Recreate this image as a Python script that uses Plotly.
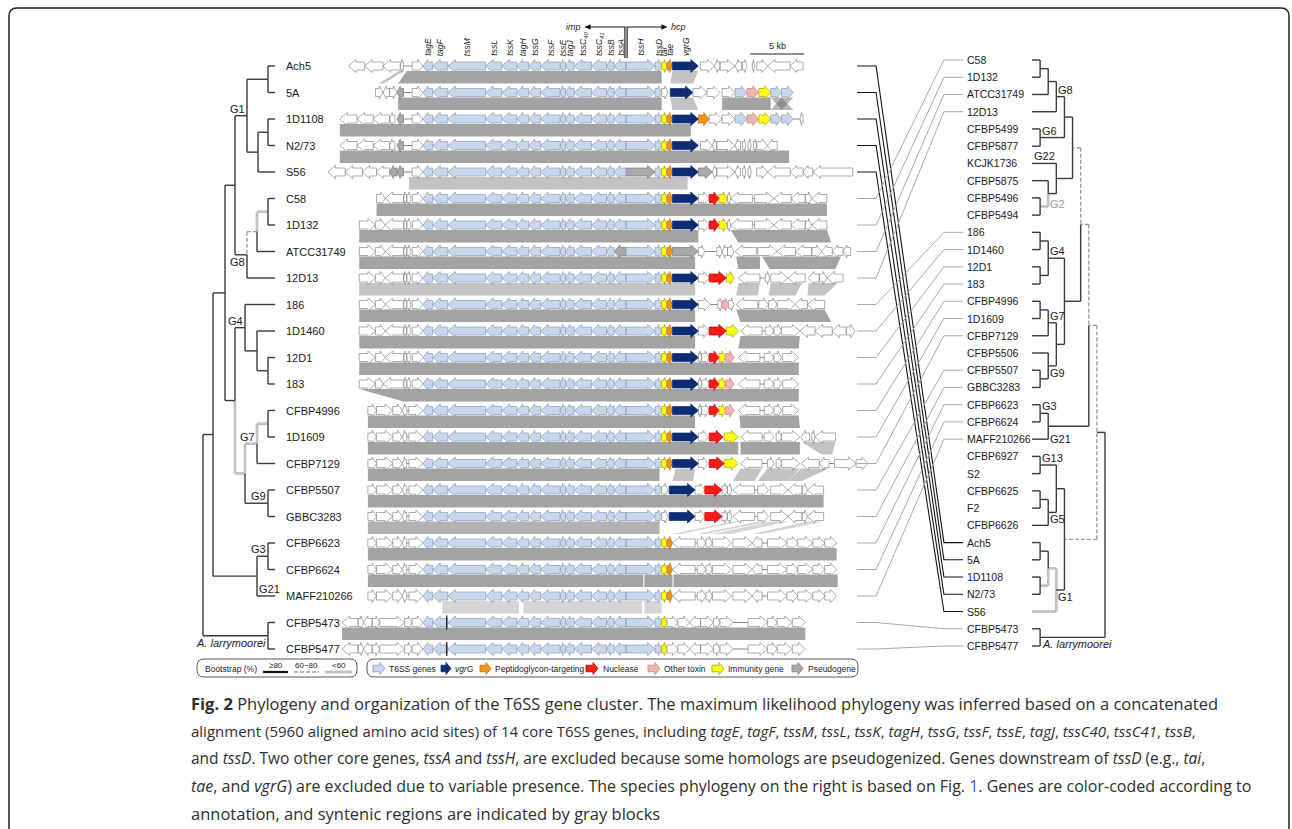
import plotly.graph_objects as go

W, H = 1292, 829

# ---------------- data ----------------
LEFT_STRAINS = ["Ach5", "5A", "1D1108", "N2/73", "S56", "C58", "1D132", "ATCC31749",
                "12D13", "186", "1D1460", "12D1", "183", "CFBP4996", "1D1609", "CFBP7129",
                "CFBP5507", "GBBC3283", "CFBP6623", "CFBP6624", "MAFF210266", "CFBP5473", "CFBP5477"]

RIGHT_STRAINS = ["C58", "1D132", "ATCC31749", "12D13", "CFBP5499", "CFBP5877", "KCJK1736",
                 "CFBP5875", "CFBP5496", "CFBP5494", "186", "1D1460", "12D1", "183", "CFBP4996",
                 "1D1609", "CFBP7129", "CFBP5506", "CFBP5507", "GBBC3283", "CFBP6623", "CFBP6624",
                 "MAFF210266", "CFBP6927", "S2", "CFBP6625", "F2", "CFBP6626", "Ach5", "5A",
                 "1D1108", "N2/73", "S56", "CFBP5473", "CFBP5477"]

G1_STRAINS = ["Ach5", "5A", "1D1108", "N2/73", "S56"]

# tree nodes: [depth, branch style, children]; leaf = name or (name, style)
# styles: s = bootstrap >=80, d = 60~80, g = <60
LEFT_TREE = [0.0, "s", [
    [1.0, "s", [
        [2.2, "s", [
            [3.2, "s", [
                [4.4, "s", [
                    [6.5, "s", ["Ach5", "5A"]],
                    [5.5, "s", [[6.5, "s", ["1D1108", "N2/73"]], "S56"]],
                ]],
                [4.4, "s", [
                    [5.4, "d", [[6.5, "g", ["C58", "1D132"]], "ATCC31749"]],
                    "12D13"]],
            ]],
            [3.2, "s", [
                [4.2, "s", ["186", [5.4, "s", ["1D1460", [6.5, "s", ["12D1", "183"]]]]]],
                [4.2, "g", [
                    [5.4, "g", [[6.5, "g", ["CFBP4996", "1D1609"]], "CFBP7129"]],
                    [6.5, "s", ["CFBP5507", "GBBC3283"]]]],
            ]],
        ]],
        [5.4, "s", [[6.5, "s", ["CFBP6623", "CFBP6624"]], "MAFF210266"]],
    ]],
    [6.5, "s", ["CFBP5473", "CFBP5477"]],
]]
LEFT_TIP = 7.2

RIGHT_TREE = [9, "s", [
    [8, "s", [
        [7, "d", [
            [6, "d", [
                [5, "d", [
                    [4, "s", [
                        [3, "s", [[2, "s", [[1, "s", ["C58", "1D132"]], "ATCC31749"]], "12D13"]],
                        [1, "s", ["CFBP5499", "CFBP5877"]],
                    ]],
                    [3, "s", ["KCJK1736", [2, "s", ["CFBP5875", [1, "g", ["CFBP5496", "CFBP5494"]]]]]],
                ]],
                [4, "s", [
                    [2, "s", [[1, "s", ["186", "1D1460"]], [1, "s", ["12D1", "183"]]]],
                    [3, "s", [
                        [2, "s", [[1, "s", ["CFBP4996", "1D1609"]], "CFBP7129"]],
                        [2, "s", ["CFBP5506", [1, "s", ["CFBP5507", "GBBC3283"]]]],
                    ]],
                ]],
            ]],
            [2, "s", [[1, "s", ["CFBP6623", "CFBP6624"]], "MAFF210266"]],
        ]],
        [4, "d", [
            [3, "s", [[1, "s", ["CFBP6927", "S2"]], [2, "s", [[1, "s", ["CFBP6625", "F2"]], "CFBP6626"]]]],
            [3, "s", [[2, "g", [[1, "s", ["Ach5", "5A"]], [1, "g", ["1D1108", "N2/73"]]]], ("S56", "g")]],
        ]],
    ]],
    [1, "s", ["CFBP5473", "CFBP5477"]],
]]

# group labels: (text, node key for x, node key for y, xanchor, yanchor)
LEFT_GROUPS = [
    ("G1", "Ach5|S56", "Ach5|S56", "right", "bottom"),
    ("G8", "C58|12D13", "C58|12D13", "right", "top"),
    ("G4", "186|183", "186|183", "right", "bottom"),
    ("G7", "CFBP4996|CFBP7129", "CFBP4996|CFBP7129", "right", "bottom"),
    ("G9", "CFBP5507|GBBC3283", "CFBP5507|GBBC3283", "right", "bottom"),
    ("G3", "CFBP6623|CFBP6624", "CFBP6623|CFBP6624", "right", "bottom"),
    ("G21", "CFBP6623|MAFF210266", "MAFF210266", "left", "bottom"),
    ("<i>A. larrymoorei</i>", "CFBP5473|CFBP5477", "CFBP5473|CFBP5477", "right", "top"),
]
RIGHT_GROUPS = [
    ("G8", "C58|12D13", "C58|12D13", "left", "bottom"),
    ("G6", "CFBP5499|CFBP5877", "CFBP5499|CFBP5877", "left", "bottom"),
    ("G22", "KCJK1736", "KCJK1736", "left", "bottom"),
    ("G2", "CFBP5875|CFBP5494", "CFBP5496|CFBP5494", "left", "middle"),
    ("G4", "186|183", "186|183", "left", "bottom"),
    ("G7", "CFBP4996|CFBP7129", "CFBP4996|CFBP7129", "left", "bottom"),
    ("G9", "CFBP5506|GBBC3283", "CFBP5506|GBBC3283", "left", "top"),
    ("G3", "CFBP6623|CFBP6624", "CFBP6623|CFBP6624", "left", "bottom"),
    ("G21", "CFBP6623|MAFF210266", "MAFF210266", "left", "middle"),
    ("G13", "CFBP6927|S2", "CFBP6927|S2", "left", "bottom"),
    ("G5", "CFBP6625|CFBP6626", "CFBP6625|CFBP6626", "left", "top"),
    ("G1", "Ach5|S56", "Ach5|S56", "left", "top"),
    ("<i>A. larrymoorei</i>", "CFBP5473|CFBP5477", "CFBP5473|CFBP5477", "left", "top"),
]

# core T6SS genes (kb, relative to imp/hcp border)
CORE_NAMES = ["tagE", "tagF", "tssM", "tssL", "tssK", "tagH", "tssG", "tssF", "tssE", "tagJ",
              "tssC40", "tssC41", "tssB", "tssA", "tssH", "tssD"]
CORE_START = [-18.8, -17.9, -16.5, -13.0, -11.5, -10.1, -9.0, -7.9, -6.1, -5.6, -4.8, -3.2, -1.8, -1.1, 0.0, 2.7]
CORE_END = [-17.9, -16.5, -13.0, -11.5, -10.1, -9.0, -7.9, -6.1, -5.6, -4.8, -3.2, -1.8, -1.1, 0.0, 2.7, 3.3]
CORE_STRAND = [-1] * 14 + [1, 1]
TAIL_NAMES = ["tai", "tae", "vgrG"]
TAIL_START = [3.3, 3.8, 4.3]
TAIL_END = [3.8, 4.3, 6.7]
TAIL_CAT = ["y", "o", "n"]
PSEUDO = {"S56": ["tssH"], "ATCC31749": ["tssA"]}
TICKS = {"CFBP5473": [-16.6], "CFBP5477": [-16.6]}

# flanking genes: (start kb, end kb, strand, category); category l = intergenic line
L_A = [(-26.5, -24.9, -1, "w"), (-24.9, -23.4, -1, "w"), (-23.4, -21.9, -1, "w"), (-21.9, -21.4, -1, "w"),
       (-21.2, -20.6, -1, "g"), (-20.6, -19.8, 0, "l"), (-19.8, -18.8, 1, "w")]
L_B = [(-24.7, -23.2, 1, "w"), (-23.2, -22.3, 1, "w"), (-22.3, -20.6, -1, "w"), (-20.6, -20.3, -1, "w"),
       (-20.3, -19.9, 1, "w"), (-19.8, -18.8, 1, "w")]
L_C = [(-23.9, -23.1, 1, "w"), (-23.1, -21.6, 1, "w"), (-21.6, -20.7, 1, "w"), (-20.7, -20.3, -1, "w"),
       (-20.3, -20.1, 0, "l"), (-20.1, -18.8, 1, "w")]
L_D = [(-26.3, -24.8, -1, "w"), (-24.8, -24.3, 1, "w"), (-24.3, -23.5, -1, "w"), (-23.5, -22.8, 1, "w"),
       (-22.8, -20.5, 1, "w"), (-20.5, -19.8, 1, "w"), (-19.8, -18.8, 1, "w")]

LEFT_FLANK = {
    "Ach5": [(-25.7, -24.2, -1, "w"), (-24.2, -22.5, -1, "w"), (-22.5, -20.9, -1, "w"), (-20.9, -20.6, -1, "w"),
             (-20.6, -19.8, 0, "l"), (-19.8, -18.8, 1, "w")],
    "5A": [(-23.2, -22.5, 1, "w"), (-22.5, -21.9, -1, "w"), (-21.9, -21.2, 1, "w"), (-21.2, -20.6, -1, "g"),
           (-20.6, -19.8, 0, "l"), (-19.8, -18.8, 1, "w")],
    "1D1108": L_A, "N2/73": L_A,
    "S56": [(-27.6, -26.0, -1, "w"), (-26.0, -24.4, -1, "w"), (-24.4, -23.1, -1, "w"), (-23.1, -21.9, -1, "w"),
            (-21.9, -21.2, -1, "g"), (-21.2, -20.6, -1, "g"), (-20.6, -19.8, 0, "l"), (-19.8, -18.8, 1, "w")],
    "C58": [(-23.1, -22.3, 1, "w"), (-22.3, -20.6, -1, "w"), (-20.6, -20.3, -1, "w"), (-20.3, -19.9, 1, "w"),
            (-19.8, -18.8, 1, "w")],
    "1D132": L_B, "ATCC31749": L_B, "12D13": L_B, "186": L_B, "1D1460": L_B, "12D1": L_B,
    "183": [(-24.7, -23.2, 1, "w"), (-23.2, -22.5, 1, "w"), (-22.5, -20.6, -1, "w"), (-20.6, -20.3, -1, "w"),
            (-20.3, -19.9, 1, "w"), (-19.8, -18.8, 1, "w")],
    "CFBP4996": L_C, "1D1609": L_C, "CFBP7129": L_C, "CFBP5507": L_C, "GBBC3283": L_C,
    "CFBP6623": L_C, "CFBP6624": L_C, "MAFF210266": L_C,
    "CFBP5473": L_D, "CFBP5477": L_D,
}

R_C58 = ["TAIL", (6.7, 7.7, 1, "w"), (7.7, 8.6, 1, "r"), (8.6, 9.4, 1, "y"), (9.4, 9.7, 1, "w"), (9.7, 11.7, -1, "w"),
         (11.7, 11.9, 0, "l"), (11.9, 13.7, 1, "w"), (13.7, 15.3, -1, "w"), (15.3, 16.6, -1, "w"),
         (16.6, 17.2, 1, "w"), (17.2, 18.6, -1, "w")]
R_12D1 = ["TAIL", (6.7, 7.0, 1, "w"), (7.0, 7.7, 1, "w"), (7.7, 8.6, 1, "r"), (8.6, 9.2, 1, "y"), (9.2, 10.0, 1, "p"),
          (10.4, 12.4, -1, "w"), (12.4, 12.8, 0, "l"), (12.8, 13.7, 1, "w"), (13.7, 14.4, 1, "w"), (14.5, 16.0, 1, "w")]
R_5507 = [(3.3, 3.9, 1, "w"), (4.0, 6.4, 1, "n"), (6.4, 7.3, 1, "w"), (7.3, 8.9, 1, "r"), (8.9, 9.4, 1, "w"),
          (9.4, 9.8, 1, "w"), (9.9, 11.9, -1, "w"), (11.9, 12.2, 0, "l"), (12.2, 13.2, 1, "w"), (13.4, 15.0, 1, "w"),
          (15.0, 16.3, -1, "w"), (16.3, 16.8, 1, "w"), (16.8, 18.3, -1, "w")]
R_6623 = [(3.3, 3.8, 1, "y"), (3.8, 4.3, 1, "o"), (4.3, 6.4, -1, "w"), (6.4, 6.6, 0, "l"), (6.6, 7.4, 1, "w"),
          (7.4, 8.0, 1, "w"), (8.0, 9.8, 1, "w"), (9.9, 11.7, 1, "w"), (11.7, 12.6, -1, "w"), (12.6, 13.1, 0, "l"),
          (13.1, 14.9, 1, "w"), (14.9, 15.9, 1, "w"), (15.9, 17.3, 1, "w"), (17.3, 18.4, 1, "w"), (18.4, 19.5, 1, "w")]
R_5473 = [(3.3, 3.8, 1, "y"), (3.8, 4.8, 1, "w"), (4.8, 5.9, 1, "w"), (5.9, 6.9, -1, "w"), (6.9, 8.1, 1, "w"),
          (8.1, 8.7, 1, "w"), (8.7, 9.9, 1, "w"), (9.9, 11.3, 0, "l"), (11.3, 13.1, 1, "w"), (13.1, 14.0, 1, "w"),
          (14.0, 15.4, 1, "w"), (15.4, 16.6, 1, "w")]

RIGHT_FLANK = {
    "Ach5": ["TAIL", (6.9, 8.2, 1, "w"), (8.2, 8.7, -1, "w"), (8.7, 10.1, 1, "w"), (10.1, 10.7, -1, "w"),
             (10.8, 11.2, 1, "w"), (11.7, 11.9, 1, "w"), (12.1, 13.1, 1, "w"), (13.1, 15.2, -1, "w"),
             (15.2, 16.4, -1, "w")],
    "5A": [(3.3, 3.9, 1, "w"), (4.1, 6.2, 1, "n"), (6.2, 7.5, 1, "w"), (7.5, 8.7, 1, "w"), (8.9, 10.1, 1, "w"),
           (10.1, 11.2, 1, "b"), (11.2, 12.3, 1, "p"), (12.3, 13.4, 1, "y"), (13.4, 14.4, 1, "b"),
           (14.4, 15.5, 1, "b")],
    "1D1108": ["TAIL", (6.7, 7.7, 1, "o"), (7.7, 8.9, 1, "w"), (8.9, 10.1, 1, "w"), (10.1, 11.2, 1, "b"),
               (11.2, 12.3, 1, "p"), (12.3, 13.4, 1, "y"), (13.4, 14.4, 1, "b"), (14.4, 15.5, 1, "b"),
               (15.5, 16.1, 0, "l"), (16.1, 16.4, -1, "w")],
    "N2/73": ["TAIL", (6.9, 8.0, 1, "w"), (8.0, 8.4, -1, "w"), (8.4, 10.1, 1, "w"), (10.1, 10.6, -1, "w"),
              (10.8, 11.1, 1, "w"), (11.3, 11.6, 1, "w"), (11.8, 12.1, 1, "w"), (12.1, 13.1, 1, "w"),
              (13.1, 14.0, -1, "w")],
    "S56": ["TAIL", (6.7, 8.0, 1, "g"), (8.0, 8.4, -1, "w"), (8.4, 10.1, 1, "w"), (10.1, 10.6, -1, "w"),
            (10.8, 11.1, 1, "w"), (11.3, 11.6, 1, "w"), (12.1, 13.1, 1, "w"), (13.1, 15.2, -1, "w"),
            (15.2, 16.4, -1, "w"), (16.4, 17.3, -1, "w"), (17.3, 21.0, -1, "w")],
    "C58": R_C58, "1D132": R_C58,
    "ATCC31749": [(3.3, 3.8, 1, "y"), (3.8, 4.3, 1, "o"), (4.3, 6.7, 1, "g"), (6.7, 7.3, 1, "w"), (7.3, 8.4, 0, "l"),
                  (8.4, 8.9, 1, "w"), (8.9, 9.4, -1, "w"), (9.4, 10.0, 1, "w"), (10.1, 12.1, -1, "w"),
                  (12.1, 12.2, 0, "l"), (12.2, 14.0, 1, "w"), (14.0, 15.7, -1, "w"), (15.7, 17.2, -1, "w"),
                  (17.2, 18.1, 1, "w"), (18.1, 19.1, -1, "w"), (19.1, 20.1, -1, "w"), (20.1, 20.8, -1, "w")],
    "12D13": ["TAIL", (6.7, 7.7, 1, "w"), (7.7, 9.3, 1, "r"), (9.3, 10.0, 1, "y"), (10.4, 12.4, -1, "w"),
              (12.4, 12.9, 0, "l"), (12.9, 13.3, 1, "w"), (13.4, 15.0, 1, "w"), (15.0, 16.6, -1, "w"),
              (16.9, 17.9, -1, "w"), (17.9, 18.6, 1, "w"), (18.6, 20.1, -1, "w")],
    "186": ["TAIL", (6.7, 7.8, 1, "w"), (7.8, 8.5, 0, "l"), (8.5, 8.9, 1, "w"), (8.9, 9.5, 1, "p"), (9.5, 10.0, 1, "w"),
            (10.2, 12.2, -1, "w"), (12.2, 12.3, 0, "l"), (12.3, 13.2, 1, "w"), (13.2, 14.0, 1, "w"),
            (14.0, 15.7, 1, "w"), (15.7, 16.8, -1, "w"), (16.8, 18.4, -1, "w")],
    "1D1460": ["TAIL", (6.7, 7.7, 1, "w"), (7.7, 9.3, 1, "r"), (9.3, 10.4, 1, "y"), (10.6, 12.6, -1, "w"),
               (12.6, 12.9, 0, "l"), (12.9, 13.7, 1, "w"), (13.7, 14.4, 1, "w"), (14.4, 16.1, 1, "w"),
               (16.1, 17.5, -1, "w"), (17.5, 19.1, -1, "w"), (19.1, 20.4, -1, "w"), (20.4, 21.2, 1, "w")],
    "12D1": R_12D1, "183": R_12D1, "CFBP4996": R_12D1,
    "1D1609": ["TAIL", (6.7, 7.6, 1, "w"), (7.7, 9.0, 1, "r"), (9.1, 10.4, 1, "y"), (10.6, 12.6, -1, "w"),
               (12.6, 12.8, 0, "l"), (12.8, 13.7, 1, "w"), (13.9, 14.4, 1, "w"), (14.4, 16.1, 1, "w"),
               (16.2, 17.0, -1, "w"), (17.2, 17.5, 1, "w"), (17.5, 19.4, -1, "w")],
    "CFBP7129": ["TAIL", (6.7, 7.6, 1, "w"), (7.7, 9.1, 1, "r"), (9.1, 10.4, 1, "y"), (10.6, 12.6, -1, "w"),
                 (12.6, 13.1, 0, "l"), (13.1, 13.7, 1, "w"), (13.9, 14.4, 1, "w"), (14.4, 16.1, 1, "w"),
                 (16.2, 17.9, -1, "w"), (17.9, 18.8, -1, "w"), (18.8, 19.3, 0, "l"), (19.3, 21.3, 1, "w"),
                 (21.3, 22.4, 1, "w")],
    "CFBP5507": R_5507, "GBBC3283": R_5507,
    "CFBP6623": R_6623, "CFBP6624": R_6623, "MAFF210266": R_6623,
    "CFBP5473": R_5473, "CFBP5477": R_5473,
}

# syntenic blocks: (upper row index, top start, top end, bottom start, bottom end, shade)
SYNTENY = [
    (0, -20.3, 3.3, -21.1, 3.3, "d"), (0, -21.0, -20.6, -22.9, -22.4, "l"), (0, 4.3, 6.7, 4.1, 6.2, "l"),
    (1, -21.1, 3.3, -21.1, 3.3, "d"), (1, 4.1, 6.2, 4.3, 6.7, "l"), (1, 8.9, 13.4, 8.9, 13.4, "d"),
    (1, 13.4, 14.4, 14.4, 15.5, "c"), (1, 14.4, 15.5, 13.4, 14.4, "c"),
    (2, -26.5, 6.0, -26.5, 6.0, "d"),
    (3, -26.5, 15.1, -26.5, 15.1, "d"),
    (4, -20.1, 5.7, -20.1, 5.7, "l"),
    (5, -23.1, 18.6, -23.1, 18.6, "d"),
    (6, -24.7, 6.7, -24.7, 6.7, "d"), (6, 9.7, 18.6, 10.4, 19.0, "d"),
    (7, -24.7, 6.4, -24.7, 6.4, "d"), (7, 10.2, 12.4, 10.4, 12.4, "d"), (7, 12.6, 19.9, 13.3, 19.4, "d"),
    (8, -24.7, 6.4, -24.7, 6.4, "l"), (8, 10.4, 12.4, 10.2, 12.2, "l"), (8, 13.4, 16.3, 13.2, 15.7, "l"),
    (8, 16.9, 19.6, 16.8, 18.4, "l"),
    (9, -24.7, 6.4, -24.7, 6.4, "d"), (9, 10.2, 18.4, 10.6, 19.0, "d"),
    (10, -24.7, 6.4, -24.7, 6.4, "d"), (10, 10.6, 16.1, 10.4, 16.0, "d"),
    (11, -24.7, 16.0, -24.7, 16.0, "d"),
    (12, -24.7, 16.0, -20.6, 16.0, "d"),
    (13, -23.9, 6.4, -23.9, 6.4, "d"), (13, 10.5, 16.0, 10.6, 16.1, "d"),
    (14, -23.9, 10.4, -23.9, 10.4, "d"), (14, 10.6, 16.1, 10.6, 16.1, "d"), (14, 16.3, 19.4, 18.1, 19.1, "l"),
    (15, -23.9, 3.1, -23.9, 3.1, "d"), (15, 4.6, 6.4, 4.3, 6.2, "l"), (15, 10.6, 12.6, 9.9, 11.9, "l"),
    (15, 13.1, 16.1, 12.2, 15.0, "l"), (15, 16.2, 18.8, 15.0, 16.3, "l"),
    (16, -23.9, 18.3, -23.9, 18.3, "d"),
    (17, -23.9, 3.1, -23.9, 3.1, "m"), (17, 9.9, 10.6, 4.3, 5.0, "x"), (17, 12.2, 13.2, 6.6, 7.4, "x"),
    (17, 13.4, 15.0, 8.0, 9.8, "x"), (17, 16.8, 18.3, 11.7, 12.6, "x"),
    (18, -23.9, 19.5, -23.9, 19.5, "d"),
    (19, -23.9, 1.6, -23.9, 1.6, "d"), (19, 1.7, 4.3, 1.7, 4.3, "d"), (19, 4.4, 19.6, 4.4, 19.6, "d"),
    (20, -17.0, -9.9, -17.0, -9.9, "x"), (20, -9.5, 1.5, -9.5, 1.5, "x"), (20, 1.7, 3.3, 1.7, 3.3, "x"),
    (21, -26.3, 16.6, -26.3, 16.6, "d"),
]

SCALE_BAR_KB = (11.5, 16.5)

LEGEND_GENES = [("b", "T6SS genes"), ("n", "<i>vgrG</i>"), ("o", "Peptidoglycon-targeting"),
                ("r", "Nuclease"), ("p", "Other toxin"), ("y", "Immunity gene"), ("g", "Pseudogene")]

CAPTION = [
    "<b>Fig. 2</b> Phylogeny and organization of the T6SS gene cluster. The maximum likelihood phylogeny was inferred based on a concatenated",
    "alignment (5960 aligned amino acid sites) of 14 core T6SS genes, including <i>tagE</i>, <i>tagF</i>, <i>tssM</i>, <i>tssL</i>, <i>tssK</i>, <i>tagH</i>, <i>tssG</i>, <i>tssF</i>, <i>tssE</i>, <i>tagJ</i>, <i>tssC40</i>, <i>tssC41</i>, <i>tssB</i>,",
    "and <i>tssD</i>. Two other core genes, <i>tssA</i> and <i>tssH</i>, are excluded because some homologs are pseudogenized. Genes downstream of <i>tssD</i> (e.g., <i>tai</i>,",
    "<i>tae</i>, and <i>vgrG</i>) are excluded due to variable presence. The species phylogeny on the right is based on Fig. <span style='color:#2a62c9'>1</span>. Genes are color-coded according to",
    "annotation, and syntenic regions are indicated by gray blocks",
]
CAPTION_SIZE = [16.5, 15.0, 15.5, 16.0, 16.5]

# ---------------- styles / layout constants ----------------
FILL = {"w": "#ffffff", "b": "#c6d7ee", "n": "#0d2c74", "o": "#f39419", "r": "#ff1a1a",
        "p": "#f3b4b0", "y": "#ffff1a", "g": "#a9a9a9"}
EDGE = {"w": "#8a8a8a", "b": "#8f9bb0", "n": "#0d2c74", "o": "#c07010", "r": "#c00000",
        "p": "#b88", "y": "#a0a000", "g": "#7a7a7a"}
SHADE = {"d": "#a3a3a3", "m": "#b2b2b2", "l": "#c3c3c3", "x": "#d5d5d5", "c": "rgba(95,95,95,0.45)"}
TREE_STYLE = {"s": dict(color="#3a3a3a", width=1.4),
              "d": dict(color="#9d9d9d", width=1.4, dash="4px,2px"),
              "g": dict(color="#c2c2c2", width=2.8)}

ROW_PX0, ROW_PX = 66.0, 26.5          # pixel y of first gene row, row pitch
KB0_PX, KB_PX = 626.0, 10.8           # pixel x of imp/hcp border, pixels per kb
RIGHT_Y0 = (60.0 - ROW_PX0) / ROW_PX  # right-hand list start, in row units
RIGHT_DY = 17.235 / ROW_PX            # right-hand list pitch, in row units
BODY, HEAD, HEADKB = 4.0 / ROW_PX, 6.5 / ROW_PX, 0.7
LABEL_FONT = "Arial, Liberation Sans, sans-serif"


def P(x):
    return x / W


def Q(y):
    return 1 - y / H


# ---------------- build ----------------
fig = go.Figure()
ann = []
shapes = []


def walk(node, ymap, tip, segs, pos):
    if isinstance(node, list):
        depth, style, kids = node
        res = [walk(k, ymap, tip, segs, pos) for k in kids]
        y = (res[0][1] + res[-1][1]) / 2
        for kx, ky, ks, _ in res:
            segs.setdefault(ks, []).append(((depth, ky), (kx, ky)))
            segs.setdefault(ks, []).append(((depth, ky), (depth, y)))
        key = res[0][3].split("|")[0] + "|" + res[-1][3].split("|")[-1]
        pos[key] = (depth, y)
        return depth, y, style, key
    name, style = (node, "s") if isinstance(node, str) else node
    pos[name] = (tip, ymap[name])
    return tip, ymap[name], style, name


def add_tree(tree, ymap, tip, xaxis):
    segs, pos = {}, {}
    walk(tree, ymap, tip, segs, pos)
    for st in ["g", "d", "s"]:
        xs, ys = [], []
        for (a, b) in segs.get(st, []):
            xs += [a[0], b[0], None]
            ys += [a[1], b[1], None]
        fig.add_trace(go.Scatter(x=xs, y=ys, mode="lines", line=TREE_STYLE[st], xaxis=xaxis, yaxis="y",
                                 hoverinfo="skip", showlegend=False))
    return pos


left_y = {n: i for i, n in enumerate(LEFT_STRAINS)}
right_y = {n: RIGHT_Y0 + j * RIGHT_DY for j, n in enumerate(RIGHT_STRAINS)}

# synteny blocks
by_shade = {}
for (r, ts, te, bs, be, sh) in SYNTENY:
    yt, yb = r + 5.0 / ROW_PX, r + 1 - 9.0 / ROW_PX
    by_shade.setdefault(sh, []).append(([ts, te, be, bs, ts], [yt, yt, yb, yb, yt]))
for sh in ["d", "m", "l", "x", "c"]:
    for poly in by_shade.get(sh, []):
        fig.add_trace(go.Scatter(x=poly[0], y=poly[1], fill="toself", fillcolor=SHADE[sh], mode="lines",
                                 line=dict(width=0), xaxis="x2", yaxis="y", hoverinfo="skip",
                                 showlegend=False))

# genes
genes_by_cat = {}
lines_x, lines_y = [], []


def arrow_xy(a, b, strand, yc):
    h = min(HEADKB, 0.5 * (b - a))
    if strand >= 0:
        xs = [a, b - h, b - h, b, b - h, b - h, a, a]
    else:
        xs = [b, a + h, a + h, a, a + h, a + h, b, b]
    ys = [yc - BODY, yc - BODY, yc - HEAD, yc, yc + HEAD, yc + BODY, yc + BODY, yc - BODY]
    return xs, ys


for i, name in enumerate(LEFT_STRAINS):
    glist = list(LEFT_FLANK[name])
    for k, gname in enumerate(CORE_NAMES):
        cat = "g" if gname in PSEUDO.get(name, []) else "b"
        glist.append((CORE_START[k], CORE_END[k], CORE_STRAND[k], cat))
    for g in RIGHT_FLANK[name]:
        if g == "TAIL":
            for k in range(len(TAIL_NAMES)):
                glist.append((TAIL_START[k], TAIL_END[k], 1, TAIL_CAT[k]))
        else:
            glist.append(g)
    for (a, b, s, c) in glist:
        if c == "l":
            lines_x += [a, b, None]
            lines_y += [i, i, None]
            continue
        xs, ys = arrow_xy(a, b, s, i)
        d = genes_by_cat.setdefault(c, ([], []))
        d[0].extend(xs + [None])
        d[1].extend(ys + [None])

fig.add_trace(go.Scatter(x=lines_x, y=lines_y, mode="lines", line=dict(color="#8a8a8a", width=1),
                         xaxis="x2", yaxis="y", hoverinfo="skip", showlegend=False))
for c in ["w", "g", "b", "y", "o", "n", "r", "p"]:
    if c in genes_by_cat:
        xs, ys = genes_by_cat[c]
        fig.add_trace(go.Scatter(x=xs, y=ys, mode="lines", fill="toself", fillcolor=FILL[c],
                                 line=dict(color=EDGE[c], width=0.7), xaxis="x2", yaxis="y",
                                 hoverinfo="skip", showlegend=False))
tx, ty = [], []
for name, ticks in TICKS.items():
    for t in ticks:
        tx += [t, t, None]
        ty += [left_y[name] - 0.26, left_y[name] + 0.26, None]
fig.add_trace(go.Scatter(x=tx, y=ty, mode="lines", line=dict(color="#111", width=1.2), xaxis="x2",
                         yaxis="y", hoverinfo="skip", showlegend=False))

# trees
lpos = add_tree(LEFT_TREE, left_y, LEFT_TIP, "x")
rpos = add_tree(RIGHT_TREE, right_y, 0, "x3")

# connectors
for name in LEFT_STRAINS:
    yl, yr = left_y[name], right_y[name]
    black = name in G1_STRAINS
    fig.add_trace(go.Scatter(x=[0, 0.18, 0.82, 1.0], y=[yl, yl, yr, yr], mode="lines",
                             line=dict(color="#151515" if black else "#a9a9a9", width=1.1 if black else 1.0),
                             xaxis="x4", yaxis="y", hoverinfo="skip", showlegend=False))

# header: imp / hcp
yh = (27 - ROW_PX0) / ROW_PX
yv = (58 - ROW_PX0) / ROW_PX
fig.add_trace(go.Scatter(x=[-0.1, -0.1, -3.3, None, 0.1, 0.1, 3.3], y=[yv, yh, yh, None, yv, yh, yh],
                         mode="lines", line=dict(color="#111", width=1.1), xaxis="x2", yaxis="y",
                         hoverinfo="skip", showlegend=False))
dh = 2.3 / ROW_PX
fig.add_trace(go.Scatter(x=[-3.8, -3.3, -3.3, -3.8, None, 3.8, 3.3, 3.3, 3.8],
                         y=[yh, yh - dh, yh + dh, yh, None, yh, yh - dh, yh + dh, yh],
                         mode="lines", fill="toself", fillcolor="#111", line=dict(color="#111", width=0.5),
                         xaxis="x2", yaxis="y", hoverinfo="skip", showlegend=False))
ann.append(dict(x=-4.0, y=yh, xref="x2", yref="y", text="<i>imp</i>", showarrow=False, xanchor="right",
                yanchor="middle", font=dict(size=9, family=LABEL_FONT, color="#222")))
ann.append(dict(x=4.0, y=yh, xref="x2", yref="y", text="<i>hcp</i>", showarrow=False, xanchor="left",
                yanchor="middle", font=dict(size=9, family=LABEL_FONT, color="#222")))

# scale bar
ysb = (54 - ROW_PX0) / ROW_PX
fig.add_trace(go.Scatter(x=list(SCALE_BAR_KB), y=[ysb, ysb], mode="lines", line=dict(color="#222", width=1.2),
                         xaxis="x2", yaxis="y", hoverinfo="skip", showlegend=False))
ann.append(dict(x=sum(SCALE_BAR_KB) / 2, y=ysb, xref="x2", yref="y", text="5 kb", showarrow=False,
                yanchor="bottom", yshift=1, font=dict(size=9, family=LABEL_FONT, color="#222")))

# gene header labels
DISPLAY = {"tssC40": "tssC<sub>40</sub>", "tssC41": "tssC<sub>41</sub>"}
hdr_names = CORE_NAMES + TAIL_NAMES
hdr_start = CORE_START + TAIL_START
hdr_end = CORE_END + TAIL_END
for nm, a, b in zip(hdr_names, hdr_start, hdr_end):
    ann.append(dict(x=(a + b) / 2, y=(57 - ROW_PX0) / ROW_PX, xref="x2", yref="y",
                    text="<i>" + DISPLAY.get(nm, nm) + "</i>", showarrow=False, textangle=-90,
                    xanchor="center", yanchor="bottom", borderpad=0,
                    font=dict(size=8.5, family=LABEL_FONT, color="#222")))

# leaf labels
for name in LEFT_STRAINS:
    ann.append(dict(x=P(284), y=left_y[name], xref="paper", yref="y", text=name, showarrow=False,
                    xanchor="left", yanchor="middle", font=dict(size=11, family=LABEL_FONT, color="#1a1a1a")))
for name in RIGHT_STRAINS:
    ann.append(dict(x=P(965), y=right_y[name], xref="paper", yref="y", text=name, showarrow=False,
                    xanchor="left", yanchor="middle", font=dict(size=10.5, family=LABEL_FONT, color="#1a1a1a")))

# group labels
for (txt, kx, ky, xa, ya) in LEFT_GROUPS:
    ann.append(dict(x=lpos[kx][0], y=lpos[ky][1], xref="x", yref="y", text=txt, showarrow=False,
                    xanchor=xa, yanchor=ya, borderpad=0, xshift=-1 if xa == "right" else 1,
                    font=dict(size=11, family=LABEL_FONT, color="#1a1a1a")))
for (txt, kx, ky, xa, ya) in RIGHT_GROUPS:
    ann.append(dict(x=rpos[kx][0], y=rpos[ky][1], xref="x3", yref="y", text=txt, showarrow=False,
                    xanchor=xa, yanchor=ya, borderpad=0, xshift=1, yshift=3 if txt == "G2" else 0,
                    font=dict(size=11, family=LABEL_FONT, color="#999" if txt == "G2" else "#1a1a1a")))


# ---------------- legend boxes ----------------
def rbox(x0, y0, x1, y1, r):
    return (f"M {P(x0 + r)},{Q(y0)} L {P(x1 - r)},{Q(y0)} Q {P(x1)},{Q(y0)} {P(x1)},{Q(y0 + r)} "
            f"L {P(x1)},{Q(y1 - r)} Q {P(x1)},{Q(y1)} {P(x1 - r)},{Q(y1)} L {P(x0 + r)},{Q(y1)} "
            f"Q {P(x0)},{Q(y1)} {P(x0)},{Q(y1 - r)} L {P(x0)},{Q(y0 + r)} Q {P(x0)},{Q(y0)} {P(x0 + r)},{Q(y0)} Z")


shapes.append(dict(type="path", path=rbox(197, 659, 357, 677, 7), xref="paper", yref="paper",
                   line=dict(color="#555", width=1)))
shapes.append(dict(type="path", path=rbox(367, 659, 858, 677, 7), xref="paper", yref="paper",
                   line=dict(color="#555", width=1)))
LY = 668.5
ann.append(dict(x=P(203), y=Q(LY), xref="paper", yref="paper", text="Bootstrap (%)", showarrow=False,
                xanchor="left", yanchor="middle", font=dict(size=8.5, family=LABEL_FONT, color="#222")))
for (x0, x1, lab, st) in [(263, 288, "≥80", "s"), (294, 319, "60~80", "d"), (325, 352, "<60", "g")]:
    sty = dict(TREE_STYLE[st])
    if st == "s":
        sty["width"] = 2.2
        sty["color"] = "#111"
    shapes.append(dict(type="line", x0=P(x0), x1=P(x1), y0=Q(672), y1=Q(672), xref="paper", yref="paper",
                       line=sty))
    ann.append(dict(x=P((x0 + x1) / 2), y=Q(671), xref="paper", yref="paper", text=lab, showarrow=False,
                    xanchor="center", yanchor="bottom", borderpad=0,
                    font=dict(size=8, family=LABEL_FONT, color="#222")))


def arrow_path(x0, x1, yc, body=3.3, head=6.0, hl=5.0):
    pts = [(x0, yc - body), (x1 - hl, yc - body), (x1 - hl, yc - head), (x1, yc), (x1 - hl, yc + head),
           (x1 - hl, yc + body), (x0, yc + body)]
    return "M " + " L ".join(f"{P(x)},{Q(y)}" for x, y in pts) + " Z"


LEG_POS = [(373, 385, 387), (441, 451, 453), (480, 491, 493), (586, 598, 601), (648, 660, 662),
           (712, 724, 726), (792, 803, 806)]
for (cat, lab), (x0, x1, xt) in zip(LEGEND_GENES, LEG_POS):
    shapes.append(dict(type="path", path=arrow_path(x0, x1, LY), xref="paper", yref="paper",
                       fillcolor=FILL[cat], line=dict(color=EDGE[cat], width=0.8)))
    ann.append(dict(x=P(xt), y=Q(LY), xref="paper", yref="paper", text=lab, showarrow=False,
                    xanchor="left", yanchor="middle", font=dict(size=8.5, family=LABEL_FONT, color="#222")))

# outer border
R = 8
border = (f"M {P(9)},{Q(840)} L {P(9)},{Q(8 + R)} Q {P(9)},{Q(8)} {P(9 + R)},{Q(8)} "
          f"L {P(1289 - R)},{Q(8)} Q {P(1289)},{Q(8)} {P(1289)},{Q(8 + R)} L {P(1289)},{Q(840)}")
shapes.append(dict(type="path", path=border, xref="paper", yref="paper", line=dict(color="#222", width=1.5)))

# caption
for k, line in enumerate(CAPTION):
    ann.append(dict(x=P(189), y=Q(703 + 27.5 * k), xref="paper", yref="paper", text=line, showarrow=False,
                    xanchor="left", yanchor="middle",
                    font=dict(size=CAPTION_SIZE[k], family="Open Sans, sans-serif", color="#2e2e2e")))

# ---------------- axes ----------------
hid = dict(visible=False, showgrid=False, zeroline=False, fixedrange=True)
fig.update_layout(
    width=W, height=H, margin=dict(l=0, r=0, t=0, b=0, pad=0),
    paper_bgcolor="white", plot_bgcolor="rgba(0,0,0,0)", showlegend=False,
    xaxis=dict(domain=[P(201), P(277)], range=[-0.2, 7.4], anchor="y", **hid),
    xaxis2=dict(domain=[0, 1], range=[-KB0_PX / KB_PX, (W - KB0_PX) / KB_PX], anchor="y", **hid),
    xaxis3=dict(domain=[P(1030), P(1030 + 9 * 8.11 + 4)], range=[-2 / 8.11, 9 + 2 / 8.11], anchor="y", **hid),
    xaxis4=dict(domain=[P(857), P(963)], range=[0, 1], anchor="y", **hid),
    yaxis=dict(domain=[0, 1], range=[(H - ROW_PX0) / ROW_PX, -ROW_PX0 / ROW_PX], anchor="x", **hid),
    annotations=ann, shapes=shapes,
)

fig.write_html("out.html", config={"staticPlot": True},
               post_script="document.body.style.margin='0px';document.body.style.padding='0px';"
                           "document.documentElement.style.overflow='hidden';")
